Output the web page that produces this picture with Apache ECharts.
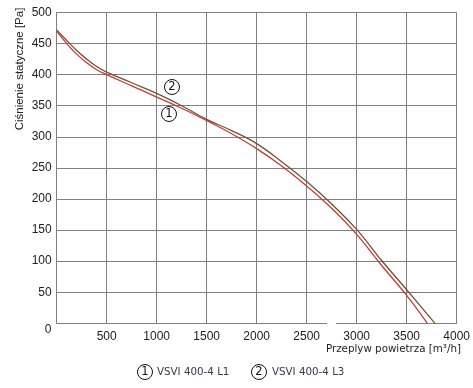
<!DOCTYPE html>
<html><head><meta charset="utf-8">
<script src="https://cdn.jsdelivr.net/npm/echarts@6/dist/echarts.min.js"></script>
<style>html,body{margin:0;padding:0;background:#fff}#c{width:473px;height:388px}</style>
</head><body><div id="c"></div>
<script>
// Flow [m3/h] and static pressure [Pa]
const flowL1 = [0,100,200,300,400,500,750,1000,1250,1500,1750,2000,2250,2500,2750,3000,3250,3500,3707];
const presL1 = [470,450,433,419,408,400,382,364,346,326,305,281,253,221,185,143,93,45,0];
const flowL3 = [0,100,200,300,400,500,750,1000,1250,1500,1750,2000,2250,2500,2750,3000,3250,3500,3783];
const presL3 = [472,455,439,425,413,404,387,370,350,328,310,289,260,228,192,151,101,54,0];
const seriesNames = ['VSVI 400-4 L1','VSVI 400-4 L3'];
const xTitle = 'Przeplyw powietrza [m\u00b3/h]';
const yTitle = 'Ciśnienie statyczne [Pa]';

const chart = echarts.init(document.getElementById('c'));
const gridC = '#808080';
const zip = (a,b)=>a.map((v,i)=>[v,b[i]]);
function circ(cx, cy, num){
  return [
    {type:'circle', shape:{cx:cx, cy:cy, r:7.5}, style:{fill:'#fff', stroke:'#111', lineWidth:1}, z:100},
    {type:'text', x:cx, y:cy+0.5, style:{text:num, fill:'#111', font:'11.5px "DejaVu Sans"', align:'center', verticalAlign:'middle'}, z:101}
  ];
}
chart.setOption({
  animation:false,
  grid:{left:56.7, right:16.3, top:12.5, bottom:64.7},
  xAxis:{type:'value', min:0, max:4000, interval:500,
    axisLine:{lineStyle:{color:gridC, width:1}}, axisTick:{show:false},
    splitLine:{lineStyle:{color:gridC, width:1}},
    axisLabel:{showMinLabel:false, formatter:v=>String(v), color:'#222', fontFamily:'Liberation Sans', fontSize:12, margin:7}},
  yAxis:{type:'value', min:0, max:500, interval:50,
    axisLine:{show:true, lineStyle:{color:gridC, width:1}}, axisTick:{show:false},
    splitLine:{lineStyle:{color:gridC, width:1}},
    axisLabel:{showMinLabel:false, formatter:v=>String(v), color:'#222', fontFamily:'Liberation Sans', fontSize:12, margin:5}},
  series:[
    {name:seriesNames[0], type:'line', smooth:0.4, symbol:'none', data:zip(flowL1,presL1), lineStyle:{color:'#c63a3a', width:1.3}, z:3},
    {name:seriesNames[1], type:'line', smooth:0.4, symbol:'none', data:zip(flowL3,presL3), lineStyle:{color:'#74532c', width:1.3}, z:2}
  ],
  graphic:[
    {type:'rect', shape:{x:327, y:321, width:9, height:4}, style:{fill:'#fff'}, z:50},
    {type:'text', x:48, y:330, style:{text:'0', fill:'#222', font:'12px "Liberation Sans"', align:'center', verticalAlign:'middle'}},
    {type:'text', x:20, y:69, rotation:Math.PI/2, style:{text:yTitle, fill:'#222', font:'11.5px "Liberation Sans"', align:'center', verticalAlign:'middle'}},
    {type:'text', x:461, y:349, style:{text:xTitle, fill:'#222', font:'10.3px "DejaVu Sans"', align:'right', verticalAlign:'middle'}},
    ...circ(172, 87, '2'),
    ...circ(169, 114, '1'),
    ...circ(145, 372, '1'),
    {type:'text', x:157, y:372, style:{text:seriesNames[0], fill:'#3a3a4a', font:'10.3px "DejaVu Sans"', align:'left', verticalAlign:'middle'}},
    ...circ(259, 372, '2'),
    {type:'text', x:272, y:372, style:{text:seriesNames[1], fill:'#3a3a4a', font:'10.3px "DejaVu Sans"', align:'left', verticalAlign:'middle'}}
  ]
});
</script></body></html>
